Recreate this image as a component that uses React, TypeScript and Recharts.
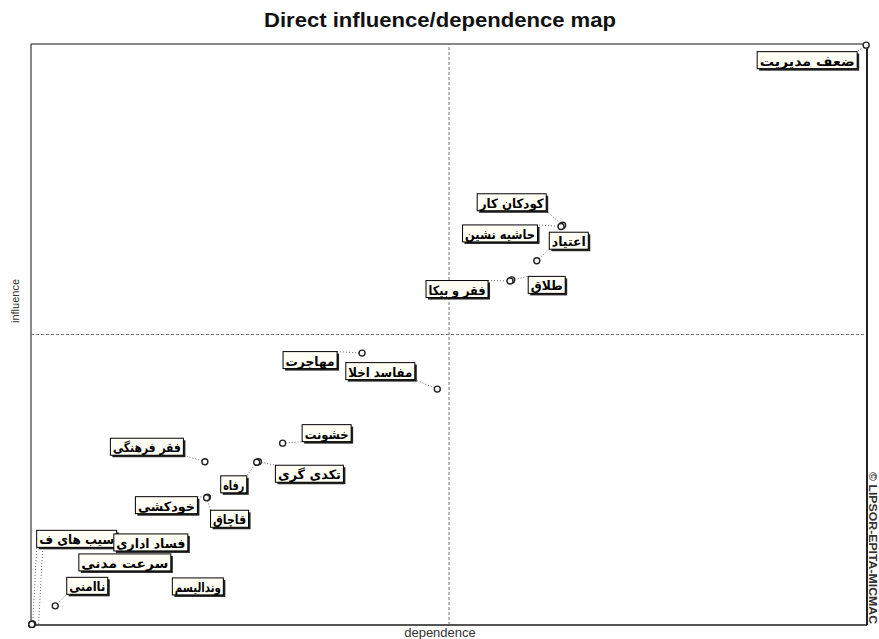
import React from "react";
import { ScatterChart, Scatter, XAxis, YAxis, ReferenceLine, ReferenceArea } from "recharts";

// MICMAC variables (dependence = x, influence = y, 0..100 of the map)
const variables = [
  "ضعف مدیریت",
  "کودکان کار",
  "حاشیه نشین",
  "اعتیاد",
  "طلاق",
  "فقر و بیکا",
  "مهاجرت",
  "مفاسد اخلا",
  "خشونت",
  "فقر فرهنگی",
  "تکدی گری",
  "رفاه",
  "خودکشی",
  "قاچاق",
  "سیب های ف",
  "فساد اداری",
  "سرعت مدنی",
  "ناامنی",
  "وندالیسم",
];
const dependence = [99.9, 63.6, 63.4, 60.5, 57.5, 57.3, 39.6, 48.6, 30.1, 20.8, 27.2, 27.0, 21.1, 21.0, 0.2, 0.1, 0.1, 2.9, 0.1];
const influence = [99.8, 68.8, 68.6, 62.7, 59.4, 59.2, 46.8, 40.6, 31.3, 28.1, 28.1, 28.0, 22.0, 21.9, 0.2, 0.1, 0.1, 3.3, 0.1];

// label box placement relative to its point (px), box width, whether a leader line shows
const labelLayout = [
  { dx: -59, dy: 15, w: 100, lead: true },
  { dx: -51, dy: -23, w: 69, lead: true },
  { dx: -61, dy: 7, w: 75, lead: true },
  { dx: 32, dy: -20, w: 39, lead: true },
  { dx: 35, dy: 5, w: 37, lead: true },
  { dx: -53, dy: 8, w: 62, lead: true },
  { dx: -52, dy: 7, w: 54, lead: true },
  { dx: -57, dy: -18, w: 69, lead: true },
  { dx: 44, dy: -10, w: 49, lead: true },
  { dx: -58, dy: -15, w: 73, lead: true },
  { dx: 51, dy: 12, w: 68, lead: true },
  { dx: -23, dy: 22, w: 26, lead: true },
  { dx: -41, dy: 8, w: 62, lead: true },
  { dx: 23, dy: 21, w: 38, lead: true },
  { dx: 44, dy: -85, w: 80, lead: true },
  { dx: 119, dy: -82, w: 74, lead: false },
  { dx: 93, dy: -62, w: 92, lead: false },
  { dx: 32, dy: -20, w: 41, lead: true },
  { dx: 166, dy: -38, w: 51, lead: false },
];

const data = variables.map((name, i) => ({ name, x: dependence[i], y: influence[i], i }));

const BOX_H = 17;

const Leader = (props: any) => {
  const { cx, cy, payload } = props;
  const l = labelLayout[payload.i];
  if (!l.lead) return <g />;
  const bx = cx + l.dx;
  const by = cy + l.dy;
  // run to the nearest corner of the box
  const ex = l.dx < 0 ? bx + l.w / 2 : bx - l.w / 2;
  const ey = l.dy < 0 ? by + BOX_H / 2 : by - BOX_H / 2;
  return (
    <g>
      <line x1={cx} y1={cy} x2={ex} y2={ey} stroke="#666" strokeWidth={1} strokeDasharray="1 2" />
      {payload.i === 14 && (
        <line x1={cx + 6} y1={cy} x2={ex + 6} y2={ey} stroke="#666" strokeWidth={1} strokeDasharray="1 2" />
      )}
    </g>
  );
};

const Dot = (props: any) => {
  const { cx, cy } = props;
  return <circle cx={cx} cy={cy} r={3} fill="#fff" stroke="#222" strokeWidth={1.4} />;
};

const Tag = (props: any) => {
  const { cx, cy, payload } = props;
  const l = labelLayout[payload.i];
  const x = cx + l.dx - l.w / 2;
  const y = cy + l.dy - BOX_H / 2;
  return (
    <g>
      <rect x={x + 2} y={y + 2} width={l.w} height={BOX_H} fill="#222" />
      <rect x={x} y={y} width={l.w} height={BOX_H} fill="#fffff6" stroke="#000" strokeWidth={1} />
      <text
        x={cx + l.dx}
        y={cy + l.dy + 1}
        textAnchor="middle"
        dominantBaseline="central"
        fontFamily="'DejaVu Sans', sans-serif"
        fontWeight="bold"
        fontSize={13}
        textLength={l.w - 5}
        lengthAdjust="spacingAndGlyphs"
        fill="#000"
      >
        {payload.name}
      </text>
    </g>
  );
};

export default function App() {
  return (
    <div style={{ position: "absolute", left: 0, top: 0, width: 879, height: 639, background: "#fff" }}>
      <ScatterChart width={879} height={639} margin={{ top: 44, right: 12, bottom: 14, left: 31 }}>
        <XAxis type="number" dataKey="x" domain={[0, 100]} hide />
        <YAxis type="number" dataKey="y" domain={[0, 100]} hide />
        <ReferenceArea x1={0} x2={100} y1={0} y2={100} fill="none" stroke="#111" strokeWidth={1} />
        <ReferenceLine x={50} stroke="#777" strokeDasharray="3 2" />
        <ReferenceLine y={50} stroke="#777" strokeDasharray="3 2" />
        <ReferenceLine y={0} stroke="#555" strokeWidth={2} />
        <ReferenceLine x={100} stroke="#222" strokeWidth={2} />
        <Scatter data={data} shape={Leader} isAnimationActive={false} />
        <Scatter data={data} shape={Dot} isAnimationActive={false} />
        <Scatter data={data} shape={Tag} isAnimationActive={false} />
      </ScatterChart>
      <svg width={879} height={639} style={{ position: "absolute", left: 0, top: 0, pointerEvents: "none" }}>
        <text
          x={440}
          y={27}
          textAnchor="middle"
          fontFamily="'Liberation Sans Narrow', 'Liberation Sans', Arial, sans-serif"
          fontWeight="bold"
          fontSize={20}
          textLength={352}
          lengthAdjust="spacingAndGlyphs"
          fill="#111"
        >
          Direct influence/dependence map
        </text>
        <text
          x={440}
          y={637}
          textAnchor="middle"
          fontFamily="'Liberation Sans', Arial, sans-serif"
          fontSize={13}
          fill="#333"
        >
          dependence
        </text>
        <text
          transform="translate(19,301) rotate(-90)"
          textAnchor="middle"
          fontFamily="'Liberation Sans', Arial, sans-serif"
          fontSize={11}
          fill="#333"
        >
          influence
        </text>
        <text
          transform="translate(869,548) rotate(90)"
          textAnchor="middle"
          fontFamily="'Liberation Sans Narrow', 'Liberation Sans', Arial, sans-serif"
          fontWeight="bold"
          fontSize={10}
          textLength={152}
          lengthAdjust="spacingAndGlyphs"
          fill="#333"
        >
          © LIPSOR-EPITA-MICMAC
        </text>
      </svg>
    </div>
  );
}
